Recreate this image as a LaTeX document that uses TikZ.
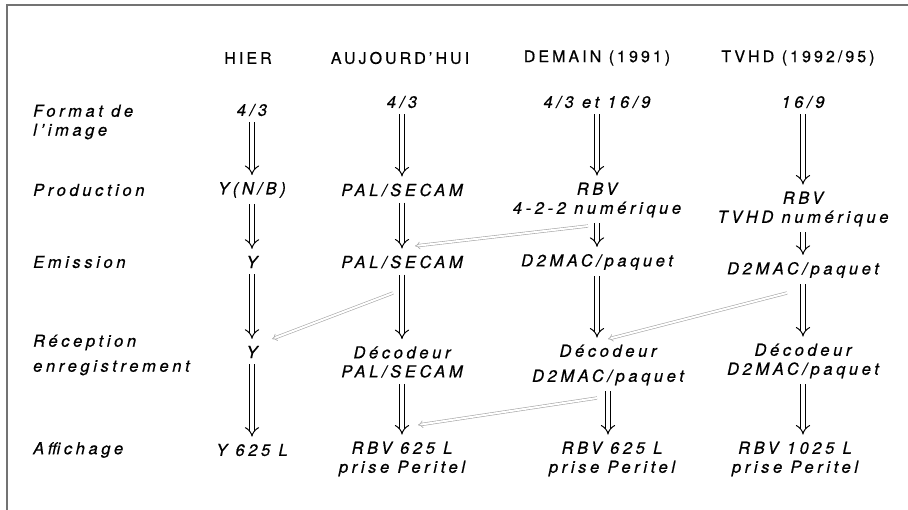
\documentclass[tikz,border=0pt]{standalone}
\usepackage{fontspec}
\setmainfont{TeX Gyre Heros}[LetterSpace=22, FakeBold=0.6]
\usepackage{tikz}
\usetikzlibrary{arrows.meta, calc, positioning}

\tikzset{
    txt/.style={font=\fontsize{16.5}{19}\selectfont\itshape, inner sep=1pt, align=center},
    rang/.style={txt, anchor=west, align=left},
    entete/.style={font=\fontsize{16}{19}\selectfont\addfontfeature{LetterSpace=19}, inner sep=1pt},
    fleche/.style={line width=1pt, double=white, double distance=4pt, draw=black,
        -{Implies}, shorten <=5pt, shorten >=6pt},
    renvoi/.style={line width=0.6pt, double=white, double distance=2pt, draw=black!35,
        -{Implies}}
}

\begin{document}
\begin{tikzpicture}[x=1pt, y=-1pt]
    \useasboundingbox (0, 0) rectangle (908, 510);
    % cadre
    \draw[black!55, line width=1.5pt] (7, 510) -- (7, 5) -- (908, 5);

    % en-tetes
    \node[entete] (hH) at (248, 58) {HIER};
    \node[entete] (hA) at (400, 58) {AUJOURD'HUI};
    \node[entete] (hD) at (597, 58) {DEMAIN (1991)};
    \node[entete] (hT) at (798, 58) {TVHD (1992/95)};

    % lignes
    \node[rang] (rF) at (32, 122) {Format de\\l'image};
    \node[rang] (rP) at (32, 190) {Production};
    \node[rang] (rE) at (32, 262) {Emission};
    \node[rang] (rR) at (32, 355) {Réception\\[6pt]enregistrement};
    \node[rang] (rA) at (32, 450) {Affichage};

    % hier
    \node[txt] (h1) at (252, 110) {4/3};
    \node[txt] (h2) at (252, 190) {Y(N/B)};
    \node[txt] (h3) at (252, 262) {Y};
    \node[txt] (h4) at (252, 352) {Y};
    \node[txt] (h5) at (252, 450) {Y 625 L};

    % aujourd'hui
    \node[txt] (a1) at (402, 102) {4/3};
    \node[txt] (a2) at (402, 190) {PAL/SECAM};
    \node[txt] (a3) at (402, 262) {PAL/SECAM};
    \node[txt] (a4) at (402, 362) {Décodeur\\PAL/SECAM};
    \node[txt] (a5) at (402, 459) {RBV 625 L\\prise Peritel};

    % demain
    \node[txt] (d1) at (597, 102) {4/3 et 16/9};
    \node[txt] (d2) at (597, 200) {RBV\\4-2-2 numérique};
    \node[txt] (d3) at (597, 262) {D2MAC/paquet};
    \node[txt] (d4) at (608, 365) {Décodeur\\[6pt]D2MAC/paquet};
    \node[txt] (d5) at (612, 459) {RBV 625 L\\prise Peritel};

    % tvhd
    \node[txt] (t1) at (803, 102) {16/9};
    \node[txt] (t2) at (803, 209) {RBV\\TVHD numérique};
    \node[txt] (t3) at (803, 270) {D2MAC/paquet};
    \node[txt] (t4) at (803, 361) {Décodeur\\D2MAC/paquet};
    \node[txt] (t5) at (795, 459) {RBV 1025 L\\prise Peritel};

    \foreach \a/\b in {h1/h2, h2/h3, h3/h4, h4/h5, a1/a2, a2/a3, a3/a4, a4/a5,
        d1/d2, d2/d3, t1/t2, t2/t3, t3/t4}
        \draw[fleche] (\a) -- (\b);
    \draw[fleche] (d3.south) -- (d3.south |- d4.north);
    \draw[fleche] (d4.south) -- (d4.south |- d5.north);
    \draw[fleche] (t4.south) -- (t4.south |- t5.north);

    % renvois en diagonale
    \coordinate (r1a) at (588, 226);
    \coordinate (r1b) at (415, 246);
    \coordinate (r2a) at (393, 293);
    \coordinate (r2b) at (272, 339);
    \coordinate (r3a) at (787, 293);
    \coordinate (r3b) at (608, 339);
    \coordinate (r4a) at (597, 398);
    \coordinate (r4b) at (418, 425);
    \foreach \a/\b in {r1a/r1b, r2a/r2b, r3a/r3b, r4a/r4b}
        \draw[renvoi] (\a) -- (\b);
\end{tikzpicture}
\end{document}
